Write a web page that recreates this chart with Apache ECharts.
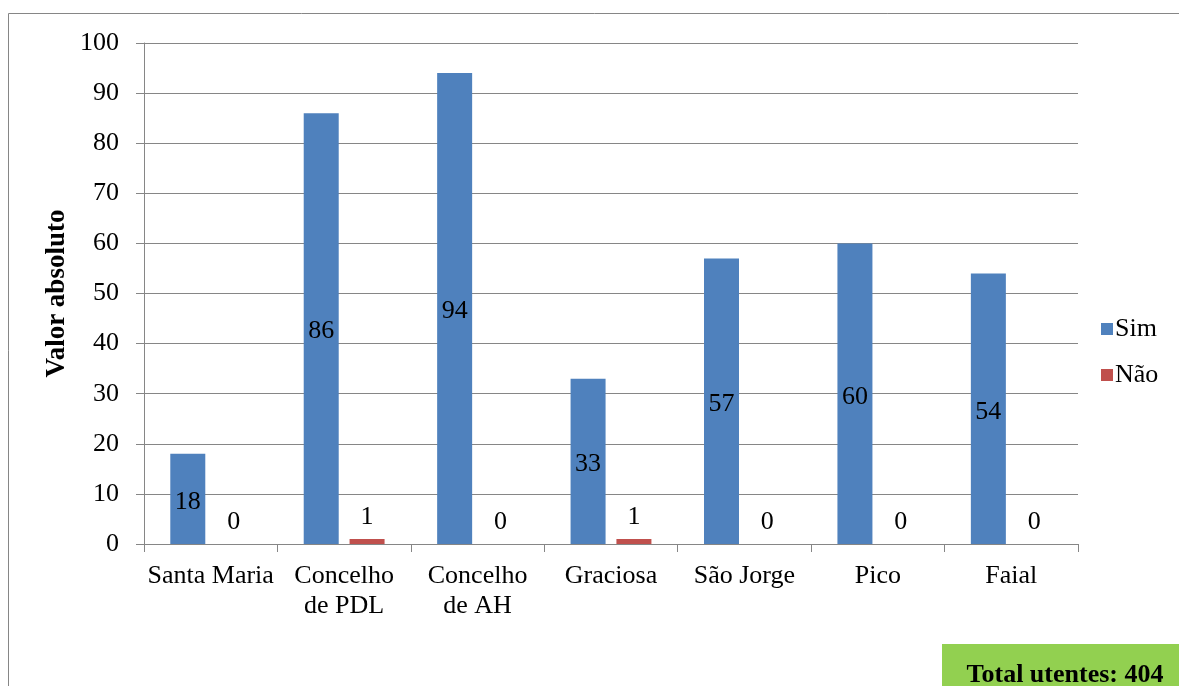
<!DOCTYPE html>
<html><head><meta charset="utf-8">
<script src="https://cdn.jsdelivr.net/npm/echarts@6/dist/echarts.min.js"></script>
<style>html,body{margin:0;padding:0;background:#fff}#c{width:1179px;height:686px}</style>
</head><body><div id="c"></div>
<script>
const categories = ['Santa Maria', 'Concelho\nde PDL', 'Concelho\nde AH', 'Graciosa', 'São Jorge', 'Pico', 'Faial'];
const simValues = [18, 86, 94, 33, 57, 60, 54];
const naoValues = [0, 1, 0, 1, 0, 0, 0];
const seriesNames = ['Sim', 'Não'];
const yAxisTitle = 'Valor absoluto';
const totalText = 'Total utentes: 404';

const font = 'Liberation Serif, Times New Roman, serif';
const fs = 26;
const chart = echarts.init(document.getElementById('c'), null, {renderer: 'canvas'});
chart.setOption({
  animation: false,
  backgroundColor: '#fff',
  textStyle: {fontFamily: font},
  grid: {left: 144, right: 101, top: 43, bottom: 142},
  legend: {
    orient: 'vertical', left: 1096, top: 311,
    itemWidth: 12, itemHeight: 12, itemGap: 20, icon: 'rect',
    textStyle: {fontFamily: font, fontSize: fs, color: '#000', padding: [0,0,0,-3]},
    data: seriesNames
  },
  xAxis: {
    type: 'category', data: categories,
    axisLine: {lineStyle: {color: '#868686', width: 1}},
    axisTick: {show: true, length: 8, lineStyle: {color: '#868686'}},
    axisLabel: {fontFamily: font, fontSize: fs, color: '#000', margin: 17, lineHeight: 30, interval: 0}
  },
  yAxis: {
    type: 'value', min: 0, max: 100, interval: 10,
    name: yAxisTitle, nameLocation: 'middle', nameGap: 73, nameRotate: 90, nameMoveOverlap: false,
    nameTextStyle: {fontFamily: font, fontSize: 27, fontWeight: 'bold', color: '#000'},
    axisLine: {show: true, lineStyle: {color: '#868686', width: 1}},
    axisTick: {show: true, length: 8, lineStyle: {color: '#868686'}},
    axisLabel: {fontFamily: font, fontSize: fs, color: '#000', margin: 25},
    splitLine: {lineStyle: {color: '#868686', width: 1}}
  },
  series: [
    {
      name: seriesNames[0], type: 'bar', data: simValues,
      itemStyle: {color: '#4F81BD'},
      barWidth: 35, barGap: '31%',
      label: {show: true, position: 'inside', offset: [0, 3], fontFamily: font, fontSize: fs, color: '#000'}
    },
    {
      name: seriesNames[1], type: 'bar', data: naoValues,
      itemStyle: {color: '#C0504D'},
      barWidth: 35,
      label: {show: true, position: 'top', distance: 9, fontFamily: font, fontSize: fs, color: '#000'}
    }
  ],
  graphic: [
    {type: 'rect', shape: {x: 8.5, y: 13.5, width: 1200, height: 700}, style: {fill: null, stroke: '#868686', lineWidth: 1}, z: -10},
    {type: 'rect', shape: {x: 942, y: 644, width: 237, height: 42}, style: {fill: '#92D050'}},
    {type: 'text', x: 1065, y: 675, style: {text: totalText, font: 'bold 26px ' + font, fill: '#000', textAlign: 'center', textVerticalAlign: 'middle'}}
  ]
});
</script></body></html>
